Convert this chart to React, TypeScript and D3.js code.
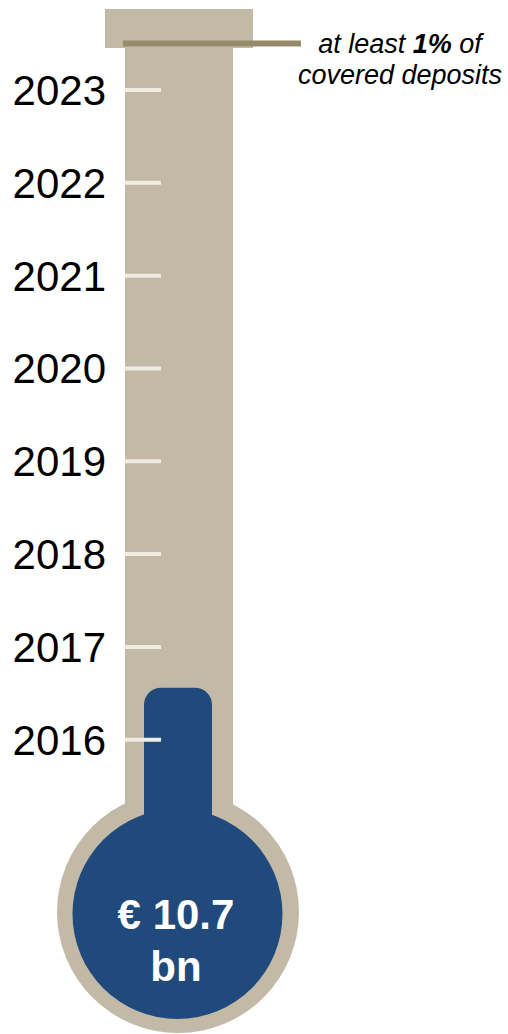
import React, { useEffect, useRef } from "react";
import * as d3 from "d3";

// years shown on the thermometer scale
const years = [2016, 2017, 2018, 2019, 2020, 2021, 2022, 2023];
// fund level reached (in year units along the scale) and the target level
const fundLevel = [2016.56];
const targetLevel = [2023.5];
const fundLabel = ["€ 10.7", "bn"];
const targetLabel = ["at least ", "1%", " of", "covered deposits"];

const App = () => {
  const chartRef = useRef<HTMLDivElement>(null);

  useEffect(() => {
    const width = 508;
    const height = 1034;
    const beige = "#c2baa6";
    const blue = "#214a7c";
    const font = "'Liberation Sans', Arial, sans-serif";

    d3.select(chartRef.current).selectAll("*").remove();

    const svg = d3
      .select(chartRef.current)
      .append("svg")
      .attr("width", width)
      .attr("height", height)
      .style("display", "block");

    // year -> vertical position
    const y = d3.scaleLinear().domain([2016, 2023]).range([739.7, 90]);

    const tubeX = 125;
    const tubeW = 108;
    const cx = 178;

    // top cap
    svg
      .append("rect")
      .attr("x", 105)
      .attr("y", 9)
      .attr("width", 148)
      .attr("height", 39)
      .attr("fill", beige);

    // tube
    svg
      .append("rect")
      .attr("x", tubeX)
      .attr("y", 47)
      .attr("width", tubeW)
      .attr("height", 820)
      .attr("fill", beige);

    // bulb
    svg
      .append("circle")
      .attr("cx", cx)
      .attr("cy", 912)
      .attr("r", 121)
      .attr("fill", beige);

    // fill column
    svg
      .selectAll(".level")
      .data(fundLevel)
      .enter()
      .append("rect")
      .attr("x", 144)
      .attr("y", (d) => y(d))
      .attr("width", 68)
      .attr("height", (d) => 900 - y(d))
      .attr("rx", 17)
      .attr("fill", blue);

    svg
      .append("circle")
      .attr("cx", 177.5)
      .attr("cy", 914)
      .attr("r", 105)
      .attr("fill", blue);

    // ticks
    svg
      .selectAll(".tick")
      .data(years)
      .enter()
      .append("line")
      .attr("x1", tubeX)
      .attr("x2", 161)
      .attr("y1", (d) => y(d))
      .attr("y2", (d) => y(d))
      .attr("stroke", "#f0ece2")
      .attr("stroke-width", 4);

    // year labels
    svg
      .selectAll(".year")
      .data(years)
      .enter()
      .append("text")
      .attr("x", 106)
      .attr("y", (d) => y(d) + 15)
      .attr("text-anchor", "end")
      .attr("font-family", font)
      .attr("font-size", 42)
      .attr("fill", "#000")
      .text((d) => d);

    // target line
    svg
      .selectAll(".target")
      .data(targetLevel)
      .enter()
      .append("line")
      .attr("x1", 123)
      .attr("x2", 301)
      .attr("y1", (d) => y(d))
      .attr("y2", (d) => y(d))
      .attr("stroke", "#968a6d")
      .attr("stroke-width", 6);

    const ann = svg
      .append("text")
      .attr("x", 400)
      .attr("y", 53)
      .attr("text-anchor", "middle")
      .attr("font-family", font)
      .attr("font-size", 27)
      .attr("font-style", "italic")
      .attr("fill", "#000");
    ann.append("tspan").text(targetLabel[0]);
    ann.append("tspan").attr("font-weight", "bold").text(targetLabel[1]);
    ann.append("tspan").text(targetLabel[2]);

    svg
      .append("text")
      .attr("x", 400)
      .attr("y", 84)
      .attr("text-anchor", "middle")
      .attr("font-family", font)
      .attr("font-size", 27)
      .attr("font-style", "italic")
      .attr("fill", "#000")
      .text(targetLabel[3]);

    // value inside bulb
    svg
      .selectAll(".value")
      .data(fundLabel)
      .enter()
      .append("text")
      .attr("x", 176)
      .attr("y", (d, i) => 929 + i * 52)
      .attr("text-anchor", "middle")
      .attr("font-family", font)
      .attr("font-size", 42)
      .attr("font-weight", "bold")
      .attr("fill", "#fff")
      .text((d) => d);
  }, []);

  return (
    <div
      ref={chartRef}
      style={{ position: "absolute", left: 0, top: 0 }}
    ></div>
  );
};

export default App;
